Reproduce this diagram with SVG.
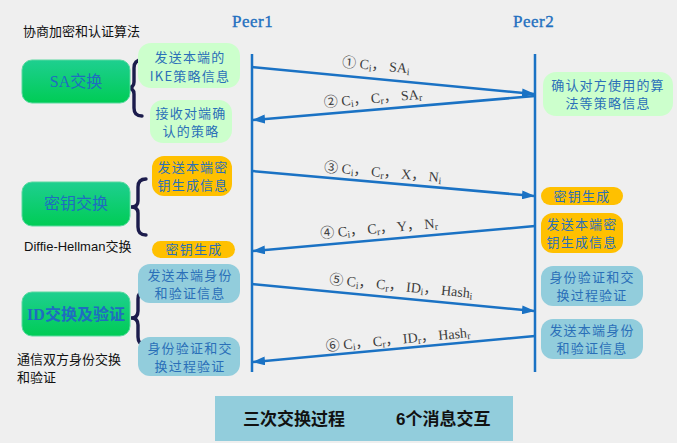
<svg xmlns="http://www.w3.org/2000/svg" width="677" height="443" viewBox="0 0 677 443">
<defs>
<linearGradient id="gg" x1="0" y1="0" x2="0" y2="1">
<stop offset="0" stop-color="#1ecf90"/>
<stop offset="1" stop-color="#00cc55"/>
</linearGradient>
<marker id="ah" markerWidth="13" markerHeight="9" refX="12" refY="4.5" orient="auto" markerUnits="userSpaceOnUse">
<path d="M0,0 L13,4.5 L0,9 z" fill="#1a72c4"/>
</marker>
<style>
.bg{fill:#efefef}
.life{stroke:#1a72c4;stroke-width:2.5;fill:none}
.arr{stroke:#1a72c4;stroke-width:2.5;fill:none;marker-end:url(#ah)}
.lbl{font-family:"Liberation Serif","Noto Sans CJK SC",serif;font-size:14px;fill:#3c3c3c;text-anchor:middle}
.sub{font-size:10px}
.peer{font-family:"Liberation Serif",serif;font-size:17px;fill:#1f70c0;letter-spacing:0.5px;stroke:#1f70c0;stroke-width:0.35}
.lg{fill:#ccffcc}
.or{fill:#ffc000}
.lb{fill:#92cddc}
.gr{fill:url(#gg);stroke:#5ad9a0;stroke-width:1}
.bt{font-family:"Noto Sans CJK SC",sans-serif;font-size:13px;fill:#2a6fb8;text-anchor:middle;letter-spacing:1.2px}
.gt{font-family:"Liberation Serif","Noto Sans CJK SC",serif;font-size:16px;fill:#1f6cc0;text-anchor:middle}
.brace{stroke:#1c1c4c;stroke-width:3.4;fill:none;stroke-linecap:round}
.note{font-family:"Liberation Sans","Noto Sans CJK SC",sans-serif;font-size:13px;fill:#111}
.ban{font-family:"Liberation Sans","Noto Sans CJK SC",sans-serif;font-size:17px;font-weight:bold;fill:#111}
</style>
</defs>
<rect class="bg" x="0" y="0" width="677" height="443"/>

<text class="note" x="23" y="36" font-size="14">协商加密和认证算法</text>
<text class="note" x="24" y="251">Diffie-Hellman交换</text>
<text class="note" x="17" y="364" font-size="13.5">通信双方身份交换</text>
<text class="note" x="17" y="382" font-size="13.5">和验证</text>

<g id="peer1"><text class="peer" x="232" y="27">Peer1</text></g>
<g id="peer2"><text class="peer" x="513" y="27">Peer2</text></g>

<g id="connectors">
<line class="life" x1="252" y1="54" x2="252" y2="372"/>
<line class="life" x1="535" y1="54" x2="535" y2="372"/>
<line class="arr" x1="252" y1="67" x2="534" y2="94"/>
<line class="arr" x1="535" y1="96" x2="253" y2="120"/>
<line class="arr" x1="252" y1="171" x2="534" y2="196"/>
<line class="arr" x1="535" y1="226" x2="253" y2="251"/>
<line class="arr" x1="252" y1="284" x2="534" y2="311"/>
<line class="arr" x1="535" y1="336" x2="253" y2="362"/>
<path class="brace" d="M142,60 Q134,60 134,68 L134,82 Q134,88 127,88 Q134,88 134,94 L134,108 Q134,116 142,116"/>
<path class="brace" d="M146,179 Q138,179 138,187 L138,201 Q138,207 131,207 Q138,207 138,213 L138,227 Q138,235 146,235"/>
<path class="brace" d="M146,291 Q138,291 138,299 L138,311 Q138,318 131,318 Q138,318 138,325 L138,337 Q138,345 146,345"/>
<text class="lbl" x="376" y="70" transform="rotate(5.4 376 66)">① C<tspan class="sub" dy="2">i</tspan><tspan dy="-2">， SA</tspan><tspan class="sub" dy="2">i</tspan></text>
<text class="lbl" x="373" y="103" transform="rotate(-4.9 373 98)">② C<tspan class="sub" dy="2">i</tspan><tspan dy="-2">， C</tspan><tspan class="sub" dy="2">r</tspan><tspan dy="-2">， SA</tspan><tspan class="sub" dy="2">r</tspan></text>
<text class="lbl" x="383" y="177" transform="rotate(5.1 383 172)">③ C<tspan class="sub" dy="2">i</tspan><tspan dy="-2">， C</tspan><tspan class="sub" dy="2">r</tspan><tspan dy="-2">， X， N</tspan><tspan class="sub" dy="2">i</tspan></text>
<text class="lbl" x="379" y="233" transform="rotate(-5.1 379 228)">④ C<tspan class="sub" dy="2">i</tspan><tspan dy="-2">， C</tspan><tspan class="sub" dy="2">r</tspan><tspan dy="-2">， Y， N</tspan><tspan class="sub" dy="2">r</tspan></text>
<text class="lbl" x="401" y="291" transform="rotate(5.5 401 286)">⑤ C<tspan class="sub" dy="2">i</tspan><tspan dy="-2">， C</tspan><tspan class="sub" dy="2">r</tspan><tspan dy="-2">， ID</tspan><tspan class="sub" dy="2">i</tspan><tspan dy="-2">， Hash</tspan><tspan class="sub" dy="2">i</tspan></text>
<text class="lbl" x="398" y="344" transform="rotate(-5.5 398 339)">⑥ C<tspan class="sub" dy="2">i</tspan><tspan dy="-2">， C</tspan><tspan class="sub" dy="2">r</tspan><tspan dy="-2">， ID</tspan><tspan class="sub" dy="2">r</tspan><tspan dy="-2">， Hash</tspan><tspan class="sub" dy="2">r</tspan></text>
</g>

<g id="sa">
<rect class="gr" x="22" y="60" width="108" height="43" rx="10"/>
<text class="gt" x="76" y="87">SA交换</text>
</g>
<g id="keyex">
<rect class="gr" x="22" y="182" width="108" height="44" rx="10"/>
<text class="gt" x="76" y="209" font-family="Noto Sans CJK SC,sans-serif">密钥交换</text>
</g>
<g id="idex">
<rect class="gr" x="22" y="292" width="108" height="44" rx="10"/>
<text class="gt" x="76" y="320" font-weight="bold">ID交换及验证</text>
</g>

<g id="n-send-ike">
<rect class="lg" x="138" y="43" width="102" height="45" rx="13"/>
<text class="bt" x="190" y="62">发送本端的</text>
<text class="bt" x="190" y="81">IKE策略信息</text>
</g>
<g id="n-recv">
<rect class="lg" x="150" y="100" width="82" height="43" rx="13"/>
<text class="bt" x="191" y="118">接收对端确</text>
<text class="bt" x="191" y="136">认的策略</text>
</g>
<g id="n-confirm">
<rect class="lg" x="543" y="72" width="130" height="44" rx="13"/>
<text class="bt" x="608" y="90">确认对方使用的算</text>
<text class="bt" x="608" y="108">法等策略信息</text>
</g>

<g id="n-key-send-l">
<rect class="or" x="152" y="156" width="80" height="40" rx="12"/>
<text class="bt" x="193" y="172">发送本端密</text>
<text class="bt" x="193" y="190">钥生成信息</text>
</g>
<g id="n-key-gen-l">
<rect class="or" x="152" y="241" width="83" height="17" rx="8.5"/>
<text class="bt" x="194" y="254">密钥生成</text>
</g>
<g id="n-key-gen-r">
<rect class="or" x="541" y="187" width="82" height="18" rx="9"/>
<text class="bt" x="582" y="201">密钥生成</text>
</g>
<g id="n-key-send-r">
<rect class="or" x="541" y="213" width="82" height="40" rx="12"/>
<text class="bt" x="582" y="229">发送本端密</text>
<text class="bt" x="582" y="247">钥生成信息</text>
</g>

<g id="n-id-send-l">
<rect class="lb" x="138" y="264" width="102" height="39" rx="12"/>
<text class="bt" x="190" y="280">发送本端身份</text>
<text class="bt" x="190" y="298">和验证信息</text>
</g>
<g id="n-id-verify-l">
<rect class="lb" x="138" y="337" width="102" height="39" rx="12"/>
<text class="bt" x="190" y="353">身份验证和交</text>
<text class="bt" x="190" y="371">换过程验证</text>
</g>
<g id="n-id-verify-r">
<rect class="lb" x="541" y="266" width="102" height="40" rx="12"/>
<text class="bt" x="592" y="282">身份验证和交</text>
<text class="bt" x="592" y="300">换过程验证</text>
</g>
<g id="n-id-send-r">
<rect class="lb" x="541" y="319" width="102" height="40" rx="12"/>
<text class="bt" x="592" y="335">发送本端身份</text>
<text class="bt" x="592" y="353">和验证信息</text>
</g>

<g id="banner">
<rect fill="#92cddc" x="215" y="396" width="298" height="45"/>
<text class="ban" x="243" y="425">三次交换过程</text>
<text class="ban" x="396" y="425">6个消息交互</text>
</g>
</svg>
